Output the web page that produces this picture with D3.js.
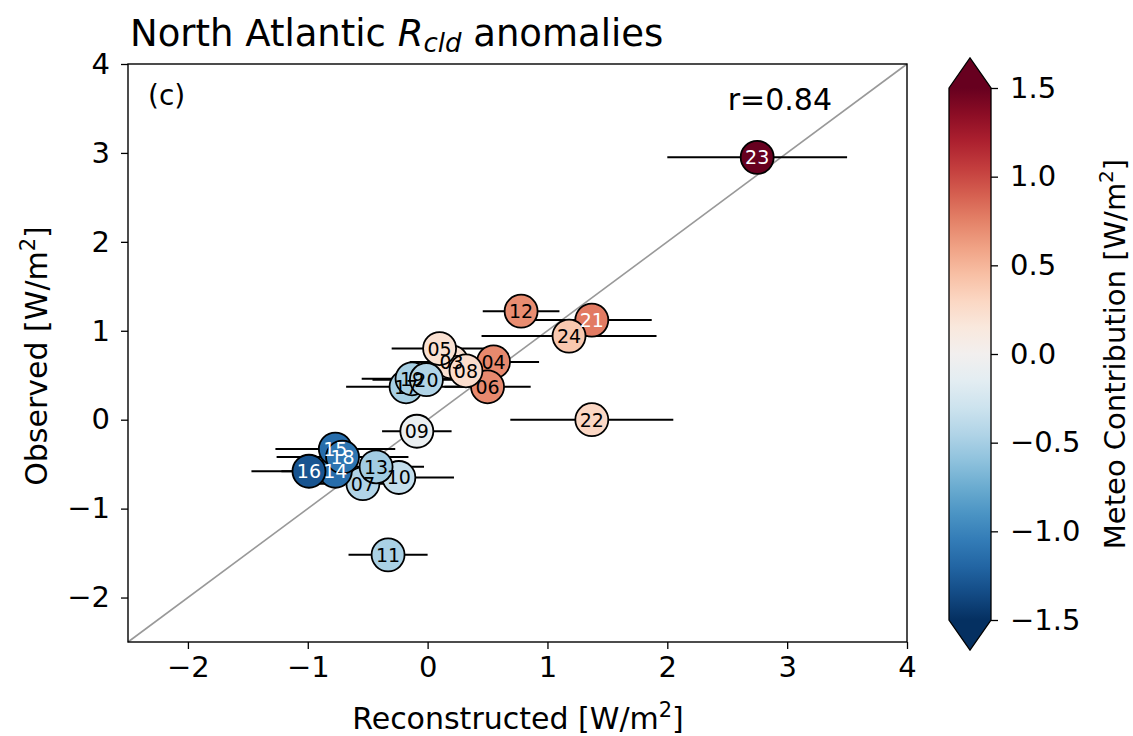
<!DOCTYPE html>
<html>
<head>
<meta charset="utf-8">
<script src="https://cdn.jsdelivr.net/npm/d3@7"></script>
<style>
  html, body { margin: 0; padding: 0; background: #fff; }
  svg text { font-family: "DejaVu Sans", sans-serif; fill: #000; }
</style>
</head>
<body>
<svg id="chart" width="1133" height="736"></svg>
<script>
// Year labels (2003–2024) and per-year values
const years = ["03","04","05","06","07","08","09","10","11","12","13","14","15","16","17","18","19","20","21","22","23","24"];
const reconstructed = [0.20, 0.55, 0.10, 0.50, -0.54, 0.32, -0.09, -0.24, -0.33, 0.78, -0.43, -0.77, -0.77, -0.99, -0.18, -0.71, -0.13, -0.01, 1.37, 1.37, 2.75, 1.18];
const observed      = [0.65, 0.65, 0.80, 0.37, -0.72, 0.55, -0.13, -0.65, -1.52, 1.22, -0.53, -0.58, -0.33, -0.58, 0.37, -0.42, 0.46, 0.45, 1.12, 0.00, 2.95, 0.94];
const reconError    = [0.35, 0.38, 0.40, 0.36, 0.40, 0.30, 0.29, 0.46, 0.33, 0.32, 0.40, 0.45, 0.50, 0.48, 0.50, 0.55, 0.42, 0.45, 0.50, 0.68, 0.75, 0.73];
const meteo         = [0.22, 0.72, 0.22, 0.72, -0.45, 0.25, -0.08, -0.35, -0.48, 0.70, -0.52, -1.15, -1.15, -1.30, -0.50, -1.10, -0.50, -0.45, 0.78, 0.30, 1.70, 0.40];
const axisTicks = [-2, -1, 0, 1, 2, 3, 4];
const colorTicks = [-1.5, -1.0, -0.5, 0.0, 0.5, 1.0, 1.5];
const correlation = "r=0.84";

const svg = d3.select("#chart");
const fmtMinus = s => String(s).replace("-", "\u2212");
const TICK_FS = 29;
const LABEL_FS = 30;

const x = d3.scaleLinear().domain([-2.5, 4]).range([128, 907]);
const y = d3.scaleLinear().domain([-2.5, 4]).range([642, 64]);

// RdBu_r colour map, normalised to [-1.5, 1.5]
const cnorm = d3.scaleLinear().domain([-1.5, 1.5]).range([0, 1]).clamp(true);
const cmap = v => d3.interpolateRdBu(1 - cnorm(v));

const plot = svg.append("g");

// 1:1 reference line
plot.append("line")
  .attr("x1", x(-2.5)).attr("y1", y(-2.5))
  .attr("x2", x(4)).attr("y2", y(4))
  .attr("stroke", "#999").attr("stroke-width", 1.6);

const data = years.map((yr, i) => ({
  yr, rx: reconstructed[i], ob: observed[i], err: reconError[i], m: meteo[i]
}));

// horizontal error bars
plot.selectAll(".err").data(data).join("line")
  .attr("class", "err")
  .attr("x1", d => x(d.rx - d.err)).attr("x2", d => x(d.rx + d.err))
  .attr("y1", d => y(d.ob)).attr("y2", d => y(d.ob))
  .attr("stroke", "#000").attr("stroke-width", 2);

// markers
plot.selectAll(".pt").data(data).join("circle")
  .attr("class", "pt")
  .attr("cx", d => x(d.rx)).attr("cy", d => y(d.ob))
  .attr("r", 16.5)
  .attr("fill", d => cmap(d.m))
  .attr("stroke", "#000").attr("stroke-width", 1.8);

// year labels on markers
plot.selectAll(".lbl").data(data).join("text")
  .attr("class", "lbl")
  .attr("x", d => x(d.rx)).attr("y", d => y(d.ob))
  .attr("text-anchor", "middle").attr("dominant-baseline", "central")
  .attr("font-size", 19)
  .style("fill", d => Math.abs(d.m) > 0.75 ? "#fff" : "#000")
  .text(d => d.yr);

// frame
svg.append("rect")
  .attr("x", 128).attr("y", 64).attr("width", 907 - 128).attr("height", 642 - 64)
  .attr("fill", "none").attr("stroke", "#000").attr("stroke-width", 1.4);

// axes
const xAxis = svg.append("g").attr("transform", "translate(0,642)")
  .call(d3.axisBottom(x).tickValues(axisTicks).tickSize(7).tickPadding(7).tickFormat(d => fmtMinus(d)));
const yAxis = svg.append("g").attr("transform", "translate(128,0)")
  .call(d3.axisLeft(y).tickValues(axisTicks).tickSize(7).tickPadding(11).tickFormat(d => fmtMinus(d)));
[xAxis, yAxis].forEach(g => {
  g.select(".domain").remove();
  g.selectAll(".tick line").attr("stroke", "#000").attr("stroke-width", 1.3);
  g.selectAll(".tick text").attr("font-size", TICK_FS).attr("font-family", "DejaVu Sans");
});

// axis labels
const xl = svg.append("text").attr("x", 518).attr("y", 729).attr("text-anchor", "middle").attr("font-size", LABEL_FS);
xl.append("tspan").text("Reconstructed [W/m");
xl.append("tspan").attr("font-size", 21).attr("dy", -12).text("2");
xl.append("tspan").attr("dy", 12).text("]");

const yl = svg.append("text").attr("transform", "translate(47,356) rotate(-90)").attr("text-anchor", "middle").attr("font-size", LABEL_FS);
yl.append("tspan").text("Observed [W/m");
yl.append("tspan").attr("font-size", 21).attr("dy", -12).text("2");
yl.append("tspan").attr("dy", 12).text("]");

// title
const tt = svg.append("text").attr("x", 130).attr("y", 46).attr("font-size", 37);
tt.append("tspan").text("North Atlantic ");
tt.append("tspan").attr("font-style", "italic").text("R");
tt.append("tspan").attr("font-style", "italic").attr("font-size", 26).attr("dy", 6).text("cld");
tt.append("tspan").attr("dy", -6).text(" anomalies");

// annotations
svg.append("text").attr("x", 148).attr("y", 105).attr("font-size", TICK_FS - 1).text("(c)");
svg.append("text").attr("x", 832).attr("y", 110).attr("text-anchor", "end").attr("font-size", LABEL_FS).text(correlation);

// colour bar
const cbX0 = 949, cbX1 = 991;
const cb = d3.scaleLinear().domain([-1.5, 1.5]).range([620, 88]);
const defs = svg.append("defs");
const grad = defs.append("linearGradient").attr("id", "cbgrad")
  .attr("x1", 0).attr("y1", 1).attr("x2", 0).attr("y2", 0);
d3.range(0, 1.0001, 0.05).forEach(t => {
  grad.append("stop").attr("offset", t).attr("stop-color", cmap(-1.5 + 3 * t));
});
const cbg = svg.append("g");
cbg.append("rect").attr("x", cbX0).attr("y", cb(1.5)).attr("width", cbX1 - cbX0).attr("height", cb(-1.5) - cb(1.5))
  .attr("fill", "url(#cbgrad)");
// extension triangles
cbg.append("path")
  .attr("d", `M${cbX0},${cb(1.5)} L${(cbX0 + cbX1) / 2},${cb(1.5) - 30} L${cbX1},${cb(1.5)} Z`)
  .attr("fill", cmap(2));
cbg.append("path")
  .attr("d", `M${cbX0},${cb(-1.5)} L${(cbX0 + cbX1) / 2},${cb(-1.5) + 30} L${cbX1},${cb(-1.5)} Z`)
  .attr("fill", cmap(-2));
cbg.append("path")
  .attr("d", `M${cbX0},${cb(1.5)} L${(cbX0 + cbX1) / 2},${cb(1.5) - 30} L${cbX1},${cb(1.5)} L${cbX1},${cb(-1.5)} L${(cbX0 + cbX1) / 2},${cb(-1.5) + 30} L${cbX0},${cb(-1.5)} Z`)
  .attr("fill", "none").attr("stroke", "#000").attr("stroke-width", 1.3);

const cbAxis = svg.append("g").attr("transform", `translate(${cbX1},0)`)
  .call(d3.axisRight(cb).tickValues(colorTicks).tickSize(7).tickPadding(12).tickFormat(d => fmtMinus(d3.format(".1f")(d))));
cbAxis.select(".domain").remove();
cbAxis.selectAll(".tick line").attr("stroke", "#000").attr("stroke-width", 1.3);
cbAxis.selectAll(".tick text").attr("font-size", TICK_FS).attr("font-family", "DejaVu Sans");

const cl = svg.append("text").attr("transform", "translate(1125,354) rotate(-90)").attr("text-anchor", "middle").attr("font-size", LABEL_FS - 1);
cl.append("tspan").text("Meteo Contribution [W/m");
cl.append("tspan").attr("font-size", 20).attr("dy", -12).text("2");
cl.append("tspan").attr("dy", 12).text("]");
</script>
</body>
</html>
